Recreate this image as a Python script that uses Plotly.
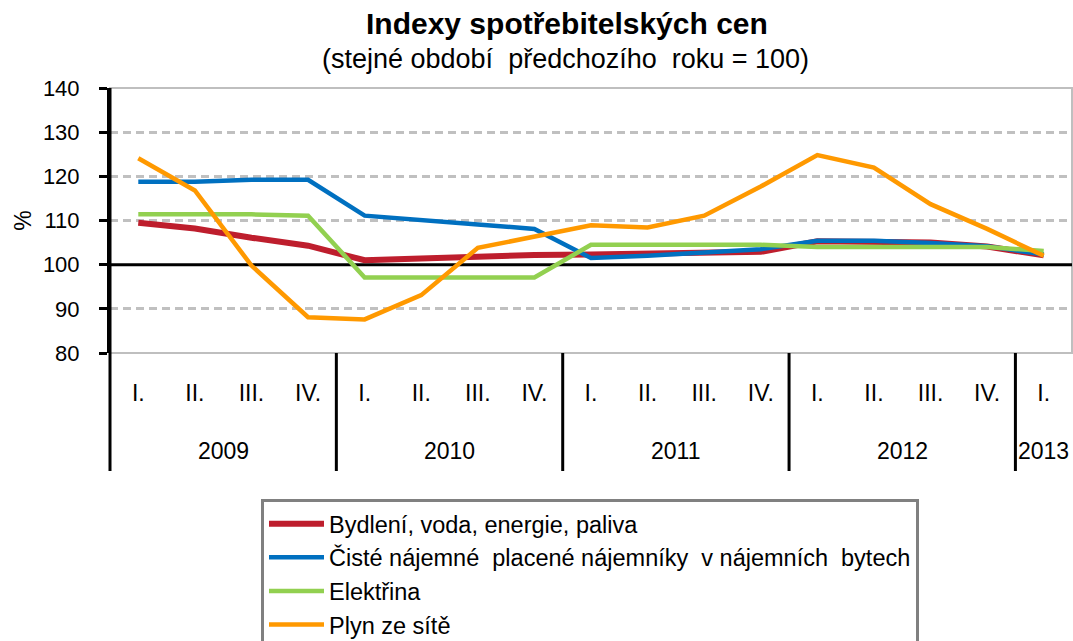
import plotly.graph_objects as go

quarters = ["I.", "II.", "III.", "IV.", "I.", "II.", "III.", "IV.", "I.", "II.", "III.", "IV.",
            "I.", "II.", "III.", "IV.", "I."]
years = ["2009", "2010", "2011", "2012", "2013"]
year_centers = [1.5, 5.5, 9.5, 13.5, 16]
year_bounds = [3.5, 7.5, 11.5, 15.5]
y_ticks = [80, 90, 100, 110, 120, 130, 140]
y_dashed = [90, 110, 120, 130]

bydleni = [109.5, 108.2, 106.1, 104.3, 101.0, 101.5, 101.9, 102.2, 102.3, 102.4, 102.6, 102.9,
           105.3, 105.3, 105.0, 104.1, 102.1]
najemne = [118.8, 118.8, 119.2, 119.2, 111.1, 110.0, 109.1, 108.1, 101.5, 102.0, 102.8, 103.5,
           105.4, 105.4, 104.9, 104.2, 102.3]
elektrina = [111.4, 111.4, 111.4, 111.1, 97.1, 97.1, 97.1, 97.1, 104.5, 104.5, 104.5, 104.5,
             104.0, 104.0, 104.0, 104.0, 103.1]
plyn = [124.1, 116.8, 99.8, 88.1, 87.6, 93.1, 103.8, 106.3, 108.9, 108.4, 111.1, 117.7,
        124.8, 122.0, 113.7, 108.1, 102.0]

series = [
    ("Bydlení, voda, energie, paliva", bydleni, "#BE1E2D", 6),
    ("Čisté nájemné  placené nájemníky  v nájemních  bytech", najemne, "#0070C0", 4.5),
    ("Elektřina", elektrina, "#92D050", 4.5),
    ("Plyn ze sítě", plyn, "#FF9900", 4.5),
]

x = list(range(len(quarters)))
FONT = "Liberation Sans, Arial, sans-serif"

fig = go.Figure()
for name, vals, color, w in series:
    fig.add_trace(go.Scatter(x=x, y=vals, name=name, mode="lines",
                             line=dict(color=color, width=w)))

W, H = 1073, 641
L, R, T, B = 110, 1, 88, 288
ph = H - T - B
pw = W - L - R


def py(pix):
    return (H - B - pix) / ph


def px(pix):
    return (pix - L) / pw


bottom_ext = py(471)

shapes = []
shapes.append(dict(type="rect", xref="paper", yref="paper", x0=0, x1=1, y0=0, y1=1,
                   line=dict(color="#BFBFBF", width=2), layer="below"))
shapes.append(dict(type="line", xref="paper", yref="y", x0=0, x1=1, y0=100, y1=100,
                   line=dict(color="black", width=3), layer="below"))
shapes.append(dict(type="line", xref="paper", yref="paper", x0=0, x1=0, y0=bottom_ext, y1=1,
                   line=dict(color="black", width=3)))
for b in year_bounds:
    shapes.append(dict(type="line", xref="x", yref="paper", x0=b, x1=b, y0=bottom_ext, y1=0,
                       line=dict(color="black", width=3)))

annotations = []
for yr, c in zip(years, year_centers):
    annotations.append(dict(text=yr, x=c, xref="x", y=py(451), yref="paper",
                            showarrow=False, xanchor="center", yanchor="middle",
                            font=dict(family=FONT, size=23, color="black")))
annotations.append(dict(text="<b>Indexy spotřebitelských cen</b>", x=px(567), xref="paper",
                        y=py(23), yref="paper", showarrow=False,
                        xanchor="center", yanchor="middle",
                        font=dict(family=FONT, size=30, color="black")))
annotations.append(dict(text="(stejné období  předchozího  roku = 100)", x=px(565),
                        xref="paper", y=py(59), yref="paper", showarrow=False,
                        xanchor="center", yanchor="middle",
                        font=dict(family=FONT, size=27, color="black")))

fig.update_layout(
    width=W, height=H,
    margin=dict(l=L, r=R, t=T, b=B, autoexpand=False),
    paper_bgcolor="white", plot_bgcolor="white",
    font=dict(family=FONT, size=23, color="black"),
    showlegend=True,
    legend=dict(x=px(261), xanchor="left", y=py(499), yanchor="top",
                bordercolor="#808080", borderwidth=3, bgcolor="white",
                font=dict(family=FONT, size=23.5, color="black"),
                itemwidth=55, tracegroupgap=0),
    xaxis=dict(range=[-0.5, len(quarters) - 0.5], tickmode="array", tickvals=x,
               ticktext=quarters, showgrid=False, zeroline=False, showline=False,
               ticks="", ticklabelstandoff=24, automargin=False,
               tickfont=dict(family=FONT, size=23)),
    yaxis=dict(range=[80, 140], tickmode="array", tickvals=y_ticks,
               showgrid=False,
               minor=dict(tickmode="array", tickvals=y_dashed, showgrid=True,
                          gridcolor="#C0C0C0", gridwidth=3, griddash="8px,5px", ticks=""),
               zeroline=False, showline=True, linecolor="black", linewidth=3,
               ticks="outside", ticklen=8, tickwidth=3, tickcolor="black",
               ticklabelstandoff=15, automargin=False,
               tickfont=dict(family=FONT, size=22),
               title=dict(text="%", font=dict(family=FONT, size=23), standoff=5)),
    shapes=shapes,
    annotations=annotations,
)

fig.write_html("out.html", config={"displayModeBar": False},
               post_script="document.body.style.margin='0';document.body.style.padding='0';")
